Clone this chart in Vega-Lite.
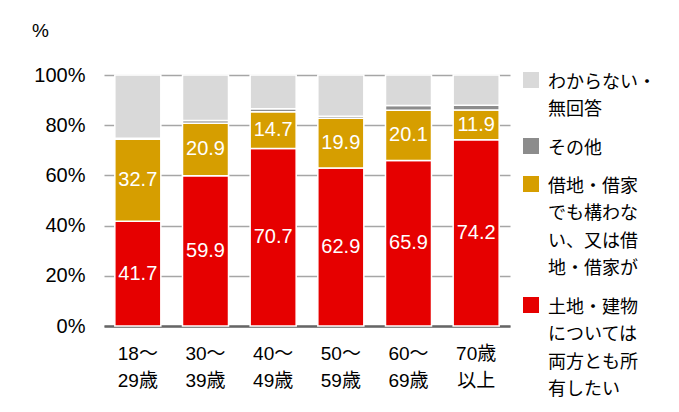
{
  "$schema": "https://vega.github.io/schema/vega-lite/v6.json",
  "width": 406,
  "height": 251,
  "autosize": "none",
  "padding": {"left": 104, "top": 75, "right": 169, "bottom": 86},
  "background": "white",
  "config": {
    "view": {"stroke": null},
    "font": "Liberation Sans",
    "style": {"guide-label": {"lineHeight": 27.5}}
  },
  "data": {
    "values": [
      {"age": "18～29歳", "cat": "土地・建物については両方とも所有したい", "k": 1, "v": 41.7},
      {"age": "18～29歳", "cat": "借地・借家でも構わない、又は借地・借家が", "k": 2, "v": 32.7},
      {"age": "18～29歳", "cat": "その他", "k": 3, "v": 0.4},
      {"age": "18～29歳", "cat": "わからない・無回答", "k": 4, "v": 25.2},
      {"age": "30～39歳", "cat": "土地・建物については両方とも所有したい", "k": 1, "v": 59.9},
      {"age": "30～39歳", "cat": "借地・借家でも構わない、又は借地・借家が", "k": 2, "v": 20.9},
      {"age": "30～39歳", "cat": "その他", "k": 3, "v": 1.1},
      {"age": "30～39歳", "cat": "わからない・無回答", "k": 4, "v": 18.1},
      {"age": "40～49歳", "cat": "土地・建物については両方とも所有したい", "k": 1, "v": 70.7},
      {"age": "40～49歳", "cat": "借地・借家でも構わない、又は借地・借家が", "k": 2, "v": 14.7},
      {"age": "40～49歳", "cat": "その他", "k": 3, "v": 1.2},
      {"age": "40～49歳", "cat": "わからない・無回答", "k": 4, "v": 13.4},
      {"age": "50～59歳", "cat": "土地・建物については両方とも所有したい", "k": 1, "v": 62.9},
      {"age": "50～59歳", "cat": "借地・借家でも構わない、又は借地・借家が", "k": 2, "v": 19.9},
      {"age": "50～59歳", "cat": "その他", "k": 3, "v": 0.8},
      {"age": "50～59歳", "cat": "わからない・無回答", "k": 4, "v": 16.4},
      {"age": "60～69歳", "cat": "土地・建物については両方とも所有したい", "k": 1, "v": 65.9},
      {"age": "60～69歳", "cat": "借地・借家でも構わない、又は借地・借家が", "k": 2, "v": 20.1},
      {"age": "60～69歳", "cat": "その他", "k": 3, "v": 1.8},
      {"age": "60～69歳", "cat": "わからない・無回答", "k": 4, "v": 12.2},
      {"age": "70歳以上", "cat": "土地・建物については両方とも所有したい", "k": 1, "v": 74.2},
      {"age": "70歳以上", "cat": "借地・借家でも構わない、又は借地・借家が", "k": 2, "v": 11.9},
      {"age": "70歳以上", "cat": "その他", "k": 3, "v": 1.8},
      {"age": "70歳以上", "cat": "わからない・無回答", "k": 4, "v": 12.1}
    ]
  },
  "transform": [
    {"stack": "v", "groupby": ["age"], "sort": [{"field": "k", "order": "ascending"}], "as": ["v0", "v1"]},
    {"calculate": "(datum.v0 + datum.v1) / 2", "as": "mid"}
  ],
  "layer": [
    {
      "mark": {"type": "bar", "stroke": "white", "strokeWidth": 1.5},
      "encoding": {
        "x": {
          "field": "age", "type": "nominal", "sort": null,
          "scale": {"paddingInner": 0.32, "paddingOuter": 0.16},
          "axis": {
            "title": null, "ticks": false, "grid": false,
            "domainColor": "#666666", "domainWidth": 2.5,
            "labelAngle": 0, "labelFontSize": 19, "labelColor": "#000000",
            "labelFont": "Liberation Sans, Noto Sans CJK JP",
            "labelLineHeight": 27, "labelPadding": 18, "labelBaseline": "top",
            "labelExpr": "[slice(datum.value, 0, 3), slice(datum.value, 3)]"
          }
        },
        "y": {
          "field": "v0", "type": "quantitative",
          "scale": {"domain": [0, 100], "nice": false},
          "axis": {
            "values": [0, 20, 40, 60, 80, 100],
            "labelExpr": "datum.value + '%'",
            "domain": false, "ticks": false, "grid": true,
            "gridColor": "#a6a6a6", "gridWidth": 1.5,
            "labelFontSize": 20, "labelColor": "#000000", "labelPadding": 19,
            "title": "%", "titleAngle": 0, "titleX": -64, "titleY": -45,
            "titleFontSize": 19, "titleFontWeight": "normal", "titleColor": "#000000",
            "titleAlign": "center", "titleBaseline": "middle"
          }
        },
        "y2": {"field": "v1"},
        "color": {
          "field": "cat", "type": "nominal",
          "scale": {
            "domain": ["わからない・無回答", "その他", "借地・借家でも構わない、又は借地・借家が", "土地・建物については両方とも所有したい"],
            "range": ["#d9d9d9", "#8c8c8c", "#d69e00", "#e60000"]
          },
          "legend": {
            "orient": "none", "legendX": 418, "legendY": -10.5,
            "title": null, "padding": 0,
            "symbolType": "M-1,-0.19H1V1.81H-1Z", "symbolSize": 256, "symbolStrokeWidth": 0, "symbolOpacity": 1,
            "labelFontSize": 18, "labelFont": "Noto Sans CJK JP", "labelColor": "#000000",
            "labelOffset": 8, "labelLimit": 200, "labelBaseline": "top",
            "rowPadding": 11,
            "labelExpr": "datum.value == 'わからない・無回答' ? ['わからない・', '無回答'] : datum.value == 'その他' ? ['その他'] : [slice(datum.value, 0, 5), slice(datum.value, 5, 10), slice(datum.value, 10, 15), slice(datum.value, 15)]"
          }
        }
      }
    },
    {
      "transform": [{"filter": "datum.k <= 2"}],
      "mark": {"type": "text", "color": "white", "fontSize": 20, "font": "Liberation Sans", "baseline": "middle"},
      "encoding": {
        "x": {"field": "age", "type": "nominal", "sort": null},
        "y": {"field": "mid", "type": "quantitative"},
        "text": {"field": "v", "type": "quantitative", "format": ".1f"}
      }
    }
  ]
}
